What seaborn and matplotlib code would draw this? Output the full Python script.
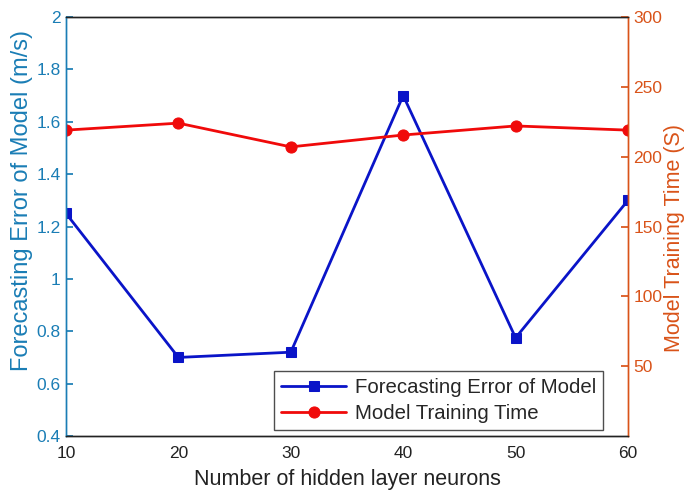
import matplotlib
matplotlib.use("Agg")
import matplotlib.pyplot as plt
import seaborn as sns
import pandas as pd

neurons = [10, 20, 30, 40, 50, 60]
forecast_error = [1.25, 0.70, 0.72, 1.70, 0.775, 1.30]
training_time = [219, 224, 207, 215.5, 222, 219]
left_ticks = [0.4, 0.6, 0.8, 1.0, 1.2, 1.4, 1.6, 1.8, 2.0]
left_labels = ["0.4", "0.6", "0.8", "1", "1.2", "1.4", "1.6", "1.8", "2"]
right_ticks = [50, 100, 150, 200, 250, 300]

sns.set_theme(style="white")
plt.rcParams['font.family'] = ['Liberation Sans', 'DejaVu Sans']

c_left = "#1a7db5"
c_right = "#d95319"
c_blue = "#0a14c8"
c_red = "#f00a0a"

df = pd.DataFrame({"n": neurons, "err": forecast_error, "t": training_time})

fig = plt.figure(figsize=(6.88, 4.93), dpi=100)
ax = fig.add_axes([66/688, 1-436/493, (628-66)/688, (436-17)/493])
ax2 = ax.twinx()

sns.lineplot(data=df, x="n", y="err", ax=ax, color=c_blue, marker="s", markersize=6.5,
             linewidth=2.0, markeredgecolor=c_blue, label="Forecasting Error of Model", legend=False)
sns.lineplot(data=df, x="n", y="t", ax=ax2, color=c_red, marker="o", markersize=8,
             linewidth=2.0, markeredgecolor=c_red, label="Model Training Time", legend=False)

ax.set_xlim(10, 60)
ax.set_ylim(0.4, 2.0)
ax2.set_ylim(0, 300)
ax.set_xticks(neurons)
ax.set_yticks(left_ticks)
ax.set_yticklabels(left_labels)
ax2.set_yticks(right_ticks)

ax.set_xlabel("Number of hidden layer neurons", fontsize=15.5, color="#222222", labelpad=6)
ax.set_ylabel("Forecasting Error of Model (m/s)", fontsize=17, color=c_left)
ax2.set_ylabel("Model Training Time (S)", fontsize=15.5, color=c_right)
ax.yaxis.set_label_coords((33-66)/562, 0.561)
ax2.yaxis.set_label_coords((664-66)/562, 0.4726)

ax.tick_params(axis="x", direction="in", length=5, labelsize=12.5, colors="#222222", top=False, pad=7)
ax.tick_params(axis="y", direction="in", length=5, labelsize=12.5, colors=c_left, pad=4)
ax2.tick_params(axis="y", direction="in", length=5, labelsize=12.5, colors=c_right, pad=4)

for a in (ax, ax2):
    a.spines["top"].set_color("#222222")
    a.spines["bottom"].set_color("#222222")
    for s in a.spines.values():
        s.set_linewidth(1.0)
ax2.spines["left"].set_color(c_left)
ax.spines["left"].set_color(c_left)
ax2.spines["right"].set_color(c_right)
ax.spines["right"].set_color(c_right)

h1, l1 = ax.get_legend_handles_labels()
h2, l2 = ax2.get_legend_handles_labels()
leg = ax2.legend(h1 + h2, l1 + l2, loc="lower right",
                 bbox_to_anchor=((603-66)/562, 6/419), fontsize=14.7,
                 frameon=True, fancybox=False, borderpad=0.35, handlelength=3.2,
                 labelspacing=0.35, borderaxespad=0, handletextpad=0.4)
leg.get_frame().set_edgecolor("#222222")
leg.get_frame().set_linewidth(1.0)

fig.savefig("out.png", dpi=100)
